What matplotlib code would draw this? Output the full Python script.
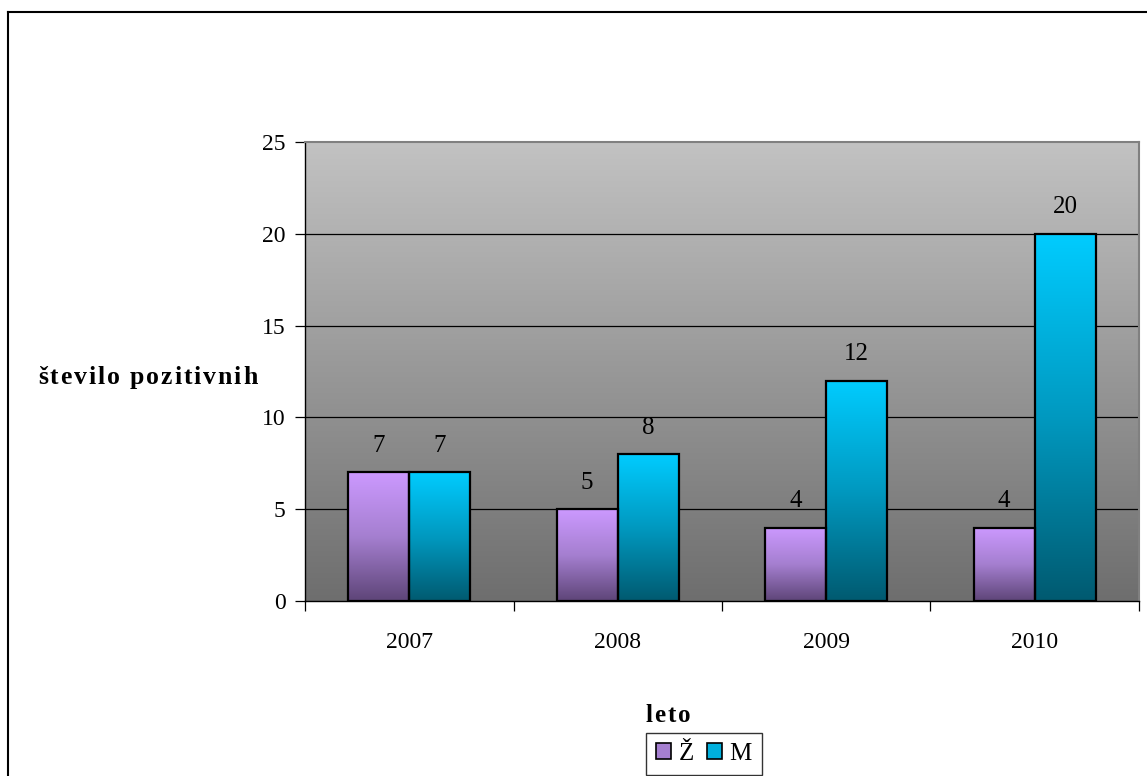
import numpy as np
import matplotlib
matplotlib.use("Agg")
import matplotlib.pyplot as plt
from matplotlib.patches import Patch
from matplotlib.lines import Line2D
from matplotlib.colors import LinearSegmentedColormap

years = ["2007", "2008", "2009", "2010"]
zenske = [7, 5, 4, 4]
moski = [7, 8, 12, 20]
series_names = ["Ž", "M"]

plt.rcParams['font.family'] = ['Liberation Serif', 'DejaVu Serif']

W, H = 1147, 776
fig = plt.figure(figsize=(W / 100, H / 100), dpi=100)
fig.patch.set_facecolor("white")

ax = fig.add_axes([305 / W, 1 - 601 / H, 834 / W, 459 / H])

# plot-area background: light grey at the top fading to dark grey
bg = LinearSegmentedColormap.from_list("bg", ["#6e6e6e", "#c2c2c2"])
grad = np.linspace(0, 1, 256).reshape(-1, 1)
ax.imshow(grad, cmap=bg, aspect="auto", extent=[0, 1, 0, 1],
          transform=ax.transAxes, origin="lower", zorder=0)

ax.set_xlim(-0.5, 3.5)
ax.set_ylim(0, 25)

for v in [5, 10, 15, 20]:
    ax.axhline(v, color="black", lw=0.9, zorder=1)

purple = LinearSegmentedColormap.from_list("pu", ["#5e4578", "#a57fd0", "#cc99ff"])
cyan = LinearSegmentedColormap.from_list("cy", ["#005a70", "#0099c0", "#00ccff"])

bw = 0.293
x = np.arange(len(years))
for vals, off, cmap in [(zenske, -bw / 2, purple), (moski, bw / 2, cyan)]:
    bars = ax.bar(x + off, vals, width=bw, facecolor="none", edgecolor="black",
                  linewidth=1.6, zorder=3)
    for b, v in zip(bars, vals):
        x0 = b.get_x()
        im = ax.imshow(grad, cmap=cmap, aspect="auto", origin="lower",
                       extent=[x0, x0 + bw, 0, v], zorder=2)
        im.set_clip_path(b)
        ax.annotate(str(v), (x0 + bw / 2, v), xytext=(0, 19),
                    textcoords="offset points", ha="center", va="center",
                    fontsize=18)

ax.set_xlim(-0.5, 3.5)
ax.set_ylim(0, 25)

ax.set_xticks(x)
ax.set_xticklabels(years, fontsize=17)
ax.set_xticks(np.arange(-0.5, 4.0, 1.0), minor=True)
ax.tick_params(axis="x", which="major", length=0, pad=22)
ax.tick_params(axis="x", which="minor", length=7, direction="out", width=0.9)
ax.set_yticks(range(0, 26, 5))
ax.tick_params(axis="y", length=7, direction="out", width=0.9, pad=7, labelsize=17)

for s in ["top", "right"]:
    ax.spines[s].set_color("#808080")
    ax.spines[s].set_linewidth(1.5)
for s in ["left", "bottom"]:
    ax.spines[s].set_color("black")
    ax.spines[s].set_linewidth(1.0)


def spaced_text(x_px, y_px, s, size, tracking, anchor="left"):
    """Bold title text written glyph by glyph with extra letter spacing."""
    renderer = fig.canvas.get_renderer()
    pieces = []
    widths = []
    for ch in s:
        t = fig.text(0, 0, ch, fontsize=size, fontweight="bold",
                     ha="left", va="center")
        widths.append(t.get_window_extent(renderer).width if ch != " "
                      else size * 0.35)
        pieces.append(t)
    total = sum(widths) + tracking * (len(s) - 1)
    cur = x_px - (total / 2 if anchor == "center" else 0)
    for t, w in zip(pieces, widths):
        t.set_position((cur / W, 1 - y_px / H))
        cur += w + tracking


spaced_text(38, 377, "število pozitivnih", 18.5, 1.9)
spaced_text(668, 716, "leto", 18, 2.0, anchor="center")

handles = [Patch(facecolor="#a57fd0", edgecolor="black", lw=1.2),
           Patch(facecolor="#00b0dd", edgecolor="black", lw=1.2)]
leg = fig.legend(handles, series_names, loc="upper center", ncol=2,
                 bbox_to_anchor=(704 / W, 1 - 733 / H), fontsize=18,
                 frameon=True, fancybox=False, edgecolor="black",
                 handlelength=0.6, handleheight=0.6, handletextpad=0.3,
                 columnspacing=0.5, borderpad=0.4, borderaxespad=0,
                 handler_map=None)
leg.get_frame().set_linewidth(1.0)

# chart frame
fig.add_artist(Line2D([8 / W, 1.0], [1 - 12 / H, 1 - 12 / H], color="black",
                      lw=1.5, transform=fig.transFigure))
fig.add_artist(Line2D([8 / W, 8 / W], [0, 1 - 12 / H], color="black",
                      lw=1.5, transform=fig.transFigure))

fig.savefig("out.png", dpi=100)
